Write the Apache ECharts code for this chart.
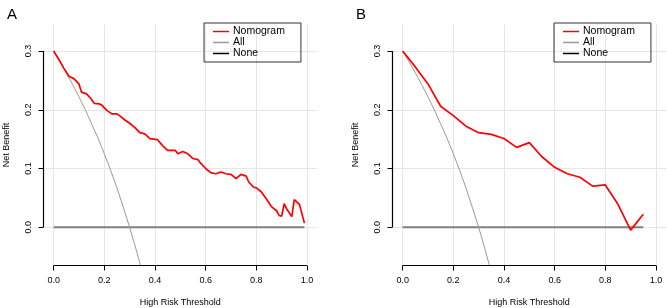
<!DOCTYPE html>
<html>
<head>
<meta charset="utf-8">
<script src="https://cdn.jsdelivr.net/npm/echarts@6/dist/echarts.min.js"></script>
<style>
  html, body { margin: 0; padding: 0; background: #fff; }
  #chart { width: 667px; height: 308px; }
</style>
</head>
<body>
<div id="chart"></div>
<script>
// panel A: nomogram net benefit
const aThreshold = [0.00, 0.02, 0.04, 0.06, 0.08, 0.10, 0.11, 0.13, 0.145, 0.16, 0.18, 0.19, 0.21, 0.23, 0.25,
  0.26, 0.28, 0.30, 0.32, 0.34, 0.36, 0.38, 0.41, 0.43, 0.45, 0.48, 0.49, 0.51, 0.53, 0.55, 0.57, 0.58,
  0.60, 0.62, 0.64, 0.66, 0.68, 0.70, 0.72, 0.74, 0.76, 0.77, 0.79, 0.80, 0.82, 0.84, 0.86, 0.88, 0.89,
  0.90, 0.91, 0.92, 0.94, 0.95, 0.97, 0.99];
const aNomogram = [0.300, 0.286, 0.271, 0.257, 0.253, 0.244, 0.230, 0.227, 0.220, 0.211, 0.210, 0.208, 0.199, 0.193, 0.193,
  0.190, 0.183, 0.177, 0.170, 0.161, 0.159, 0.151, 0.149, 0.139, 0.131, 0.131, 0.125, 0.129, 0.125, 0.117, 0.115, 0.109,
  0.100, 0.093, 0.091, 0.094, 0.091, 0.090, 0.083, 0.090, 0.087, 0.077, 0.068, 0.067, 0.060, 0.048, 0.035, 0.028, 0.020,
  0.019, 0.040, 0.031, 0.018, 0.047, 0.039, 0.007];

// panel B
const bThreshold = [0, 0.05, 0.10, 0.15, 0.20, 0.25, 0.30, 0.35, 0.40, 0.45, 0.50, 0.55, 0.60, 0.65, 0.70, 0.75, 0.80, 0.85, 0.90, 0.95];
const bNomogram = [0.300, 0.273, 0.244, 0.206, 0.190, 0.172, 0.161, 0.158, 0.151, 0.136, 0.144, 0.120, 0.102, 0.091, 0.085, 0.070, 0.072, 0.039, -0.005, 0.022];

// treat-all curve (same in both panels)
const allThreshold = [0, 0.025, 0.05, 0.075, 0.10, 0.125, 0.15, 0.175, 0.20, 0.225, 0.25, 0.275, 0.30, 0.325, 0.35];
const allBenefit = [0.300, 0.282, 0.263, 0.243, 0.222, 0.200, 0.176, 0.152, 0.125, 0.097, 0.067, 0.034, 0.000, -0.037, -0.077];

const aNoneEnd = 0.99;
const bNoneEnd = 0.95;

const xTicks = [0, 0.2, 0.4, 0.6, 0.8, 1.0];
const yTicks = [0, 0.1, 0.2, 0.3];
const xRange = [-0.04, 1.04];
const yRange = [-0.0652, 0.3452];

const FONT = 'Liberation Sans, Arial, sans-serif';
const RED = '#f00';
const GREY = '#9a9a9a';
const NONE_GREY = '#808080';

const zip = (xs, ys) => xs.map((x, i) => [x, ys[i]]);

const chart = echarts.init(document.getElementById('chart'));

function xAxisFor(idx) {
  return {
    gridIndex: idx,
    type: 'value',
    min: xRange[0],
    max: xRange[1],
    axisLine: { show: false, onZero: false },
    axisTick: { customValues: xTicks, length: 5, lineStyle: { color: '#000' } },
    axisLabel: { customValues: xTicks, color: '#000', fontSize: 9, fontFamily: FONT, margin: 11,
      formatter: v => v.toFixed(1) },
    splitLine: { show: true, lineStyle: { color: '#e6e6e6', width: 1 } },
    name: 'High Risk Threshold',
    nameLocation: 'middle',
    nameGap: 33,
    nameTextStyle: { color: '#000', fontSize: 9, fontFamily: FONT }
  };
}

function yAxisFor(idx) {
  return {
    gridIndex: idx,
    type: 'value',
    min: yRange[0],
    max: yRange[1],
    axisLine: { show: false, onZero: false },
    axisTick: { customValues: yTicks, length: 5, lineStyle: { color: '#000' } },
    axisLabel: { customValues: yTicks, color: '#000', fontSize: 9, fontFamily: FONT, margin: 10, rotate: 90,
      formatter: v => v.toFixed(1) },
    splitLine: { show: true, lineStyle: { color: '#e6e6e6', width: 1 } },
    name: 'Net Benefit',
    nameLocation: 'middle',
    nameGap: 32,
    nameTextStyle: { color: '#000', fontSize: 9, fontFamily: FONT }
  };
}

function panelSeries(idx, nomo, noneEnd) {
  const base = { type: 'line', xAxisIndex: idx, yAxisIndex: idx, symbol: 'none', animation: false };
  return [
    { ...base, name: 'None', data: [[0, 0], [noneEnd, 0]], lineStyle: { color: NONE_GREY, width: 2 }, itemStyle: { color: '#000' } },
    { ...base, name: 'All', data: zip(allThreshold, allBenefit), lineStyle: { color: GREY, width: 1 }, itemStyle: { color: GREY } },
    { ...base, name: 'Nomogram', data: nomo, lineStyle: { color: RED, width: 1.7 }, itemStyle: { color: RED }, z: 3 },
    // R style axis lines that only span the tick range
    { ...base, name: 'yaxis' + idx, data: [[xRange[0], yTicks[0]], [xRange[0], yTicks[yTicks.length - 1]]],
      lineStyle: { color: '#000', width: 1.2 }, clip: false, silent: true, z: 4 },
    { ...base, name: 'xaxis' + idx, data: [[xTicks[0], yRange[0]], [xTicks[xTicks.length - 1], yRange[0]]],
      lineStyle: { color: '#000', width: 1.2 }, clip: false, silent: true, z: 4 }
  ];
}

function legendFor(left) {
  return {
    left: left,
    top: 23,
    orient: 'vertical',
    data: [
      { name: 'Nomogram', itemStyle: { color: RED } },
      { name: 'All', itemStyle: { color: GREY } },
      { name: 'None', itemStyle: { color: '#000' } }
    ],
    icon: 'rect',
    itemWidth: 16,
    itemHeight: 1.5,
    itemGap: 0,
    padding: [3, 16, 3, 9],
    borderColor: '#333',
    borderWidth: 1,
    borderRadius: 0,
    selectedMode: false,
    textStyle: { color: '#000', fontSize: 10.5, fontFamily: FONT, lineHeight: 10, padding: [0, 0, 0, -1] }
  };
}

const option = {
  backgroundColor: '#fff',
  animation: false,
  title: [
    { text: 'A', left: 2, top: 2, textStyle: { fontSize: 15, fontWeight: 'normal', color: '#000', fontFamily: FONT } },
    { text: 'B', left: 351, top: 2, textStyle: { fontSize: 15, fontWeight: 'normal', color: '#000', fontFamily: FONT } }
  ],
  // axis lines sit on pixel centres (x.5) so they stay crisp
  grid: [
    { left: 43.5, top: 24.5, width: 273.6, height: 241, outerBoundsMode: 'none' },
    { left: 392.5, top: 24.5, width: 273.6, height: 241, outerBoundsMode: 'none' }
  ],
  legend: [legendFor(204), legendFor(554)],
  xAxis: [xAxisFor(0), xAxisFor(1)],
  yAxis: [yAxisFor(0), yAxisFor(1)],
  series: [
    ...panelSeries(0, zip(aThreshold, aNomogram), aNoneEnd),
    ...panelSeries(1, zip(bThreshold, bNomogram), bNoneEnd)
  ]
};

chart.setOption(option);
</script>
</body>
</html>
